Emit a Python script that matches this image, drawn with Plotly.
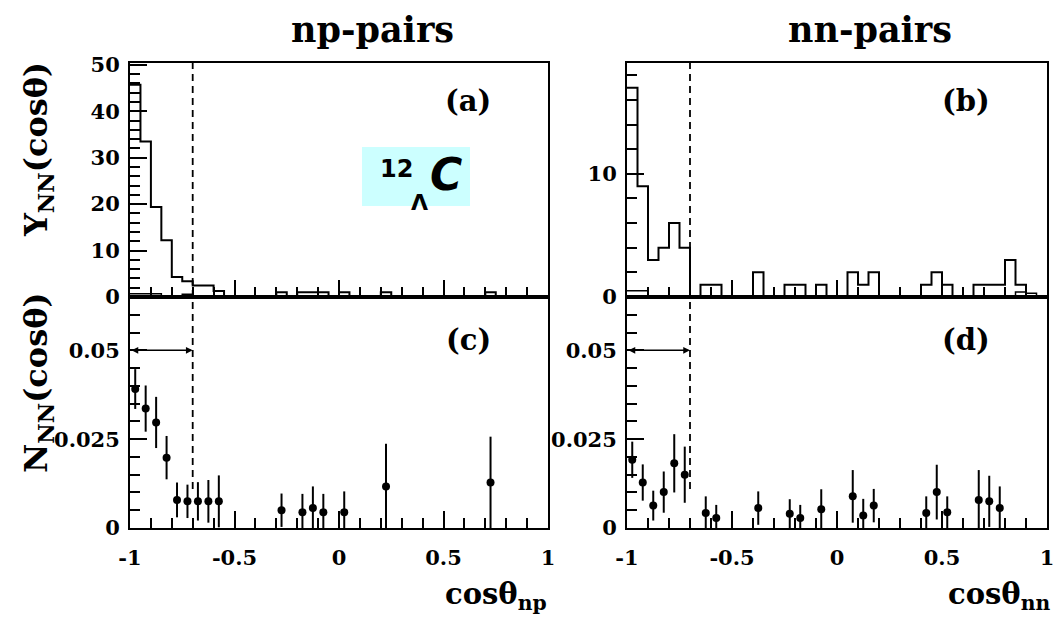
import plotly.graph_objects as go

# ---- histogram binning: 40 bins of width 0.05 on cos(theta) in [-1, 1] ----
X_MIN, X_MAX = -1.0, 1.0
N_BINS = 40
CUT = -0.7        # back-to-back cut position (dashed line)
ARROW_Y = 0.05    # height of the cut-range arrow in the lower panels

# Y_NN(cos theta), np-pairs: main histogram and the small secondary histogram
np_yield = [45.7, 33.5, 19.4, 12.2, 4.3, 3.4, 2.5, 2.5, 1.3, 0,
            0, 0, 0, 0, 1, 0, 1, 1, 1, 0,
            1, 0, 0, 0, 1, 0, 0, 0, 0, 0,
            0, 0, 0, 0, 1, 0, 0, 0, 0, 0]
np_yield_low = [0.7, 0.7, 0.7, 0.2, 0, 0.6, 0, 0, 0, 0,
                0, 0, 0, 0, 0, 0, 0, 0, 0, 0,
                0, 0, 0, 0, 0, 0, 0, 0, 0, 0,
                0, 0, 0, 0, 0, 0, 0, 0, 0, 0]

# Y_NN(cos theta), nn-pairs
nn_yield = [17, 9, 3, 4, 6, 4, 0, 1, 1, 0,
            0, 0, 2, 0, 0, 1, 1, 0, 1, 0,
            0, 2, 1, 2, 0, 0, 0, 0, 1, 2,
            1, 0, 0, 1, 1, 1, 3, 1, 0, 0]
nn_yield_low = [0.5, 0.5, 0, 0, 0, 0, 0, 0, 0, 0,
                0, 0, 0, 0, 0, 0, 0, 0, 0, 0,
                0, 0, 0, 0, 0, 0, 0, 0, 0, 0,
                0, 0, 0, 0, 0, 0, 0, 0.4, 0.3, 0]

# N_NN(cos theta), np-pairs
np_cos = [-0.975, -0.925, -0.875, -0.825, -0.775, -0.725, -0.675, -0.625,
          -0.575, -0.275, -0.175, -0.125, -0.075, 0.025, 0.225, 0.725]
np_n = [0.0391, 0.0336, 0.0297, 0.0198, 0.0079, 0.0075, 0.0075, 0.0075,
        0.0075, 0.0050, 0.0044, 0.0056, 0.0044, 0.0044, 0.0117, 0.0128]
np_err = [0.0056, 0.0065, 0.0072, 0.0061, 0.0049, 0.0047, 0.0054, 0.0060,
          0.0073, 0.0047, 0.0052, 0.0061, 0.0052, 0.0059, 0.0120, 0.0129]

# N_NN(cos theta), nn-pairs
nn_cos = [-0.975, -0.925, -0.875, -0.825, -0.775, -0.725, -0.625, -0.575,
          -0.375, -0.225, -0.175, -0.075, 0.075, 0.125, 0.175, 0.425,
          0.475, 0.525, 0.675, 0.725, 0.775]
nn_n = [0.0192, 0.0128, 0.0063, 0.0101, 0.0182, 0.0150, 0.0042, 0.0028,
        0.0056, 0.0040, 0.0028, 0.0053, 0.0089, 0.0035, 0.0063, 0.0042,
        0.0101, 0.0044, 0.0079, 0.0075, 0.0056]
nn_err = [0.0051, 0.0051, 0.0042, 0.0058, 0.0082, 0.0079, 0.0047, 0.0037,
          0.0047, 0.0041, 0.0037, 0.0056, 0.0074, 0.0047, 0.0047, 0.0047,
          0.0077, 0.0045, 0.0084, 0.0072, 0.0061]

# axis tick labels
x_tickvals = [-1, -0.5, 0, 0.5, 1]
x_ticktext = ["-1", "-0.5", "0", "0.5", "1"]
n_tickvals = [0, 0.025, 0.05]
n_ticktext = ["0", "0.025", "0.05"]

Y_MAX_NP = 50.4
Y_MAX_NN = 19.0
N_MAX = 0.065
DASH_LOW = 0.011  # lower end of the dashed cut line in the N panels

W, H = 1056, 620
SERIF = "DejaVu Serif"

edges = [X_MIN + i * (X_MAX - X_MIN) / N_BINS for i in range(N_BINS + 1)]


def px(x):
    return x / W


def py(y):
    return 1 - y / H


def step(values, xa, ya, width):
    return go.Scatter(x=edges, y=list(values) + [values[-1]], mode="lines",
                      line=dict(shape="hv", color="black", width=width),
                      xaxis=xa, yaxis=ya, hoverinfo="skip")


def points(xs, ys, es, xa, ya):
    return go.Scatter(x=xs, y=ys, mode="markers",
                      marker=dict(symbol="circle", size=8, color="black"),
                      error_y=dict(type="data", array=es, visible=True,
                                   thickness=2, width=0, color="black"),
                      xaxis=xa, yaxis=ya)


def cut_line(xa, ya, y0, y1):
    return go.Scatter(x=[CUT, CUT], y=[y0, y1], mode="lines",
                      line=dict(color="black", width=1.8, dash="7px,5px"),
                      xaxis=xa, yaxis=ya, hoverinfo="skip")


fig = go.Figure()
# (a) np yield
fig.add_trace(step(np_yield, "x", "y", 2))
fig.add_trace(step(np_yield_low, "x", "y", 1.5))
fig.add_trace(cut_line("x", "y", 0, Y_MAX_NP))
# (b) nn yield
fig.add_trace(step(nn_yield, "x2", "y2", 2))
fig.add_trace(step(nn_yield_low, "x2", "y2", 1.5))
fig.add_trace(cut_line("x2", "y2", 0, Y_MAX_NN))
# (c) np normalised distribution
fig.add_trace(cut_line("x3", "y3", DASH_LOW, N_MAX))
fig.add_trace(points(np_cos, np_n, np_err, "x3", "y3"))
# (d) nn normalised distribution
fig.add_trace(cut_line("x4", "y4", DASH_LOW, N_MAX))
fig.add_trace(points(nn_cos, nn_n, nn_err, "x4", "y4"))

left_dom = [px(130), px(548)]
right_dom = [px(627), px(1047)]
top_dom = [py(297), py(63)]
bot_dom = [py(528), py(297)]

tickfont = dict(family=SERIF, size=21, color="black", weight="bold")


def xaxis(dom, anchor, labels):
    return dict(domain=dom, anchor=anchor, range=[X_MIN, X_MAX],
                automargin=False,
                showgrid=False, zeroline=False, showline=True, mirror=True,
                linecolor="black", linewidth=2,
                ticks="inside", ticklen=17, tickwidth=1.5, tickcolor="black",
                tickvals=x_tickvals, ticktext=x_ticktext,
                showticklabels=labels, tickfont=tickfont,
                ticklabelstandoff=10,
                minor=dict(ticks="inside", dtick=0.1, tick0=0, ticklen=10,
                           tickwidth=1.5, tickcolor="black"))


def yaxis(dom, anchor, rng, tv, tt, minor_dt):
    return dict(domain=dom, anchor=anchor, range=rng,
                automargin=False,
                showgrid=False, zeroline=False, showline=True, mirror=True,
                linecolor="black", linewidth=2,
                ticks="inside", ticklen=17, tickwidth=1.5, tickcolor="black",
                tickvals=tv, ticktext=tt, tickfont=tickfont,
                ticklabelstandoff=4,
                minor=dict(ticks="inside", dtick=minor_dt, tick0=0, ticklen=10,
                           tickwidth=1.5, tickcolor="black"))


y_np_ticks = [0, 10, 20, 30, 40, 50]
y_nn_ticks = [0, 10]

fig.update_layout(
    width=W, height=H,
    margin=dict(l=0, r=0, t=0, b=0, pad=0, autoexpand=False),
    paper_bgcolor="white", plot_bgcolor="white", showlegend=False,
    xaxis=xaxis(left_dom, "y", False),
    xaxis2=xaxis(right_dom, "y2", False),
    xaxis3=xaxis(left_dom, "y3", True),
    xaxis4=xaxis(right_dom, "y4", True),
    yaxis=yaxis(top_dom, "x", [0, Y_MAX_NP], y_np_ticks,
                [str(v) for v in y_np_ticks], 2),
    yaxis2=yaxis(top_dom, "x2", [0, Y_MAX_NN], y_nn_ticks,
                 [str(v) for v in y_nn_ticks], 2),
    yaxis3=yaxis(bot_dom, "x3", [0, N_MAX], n_tickvals, n_ticktext, 0.005),
    yaxis4=yaxis(bot_dom, "x4", [0, N_MAX], n_tickvals, n_ticktext, 0.005),
)

# cut-range arrows in the lower panels
for xa, ya in (("x3", "y3"), ("x4", "y4")):
    fig.add_annotation(x=CUT, y=ARROW_Y, ax=X_MIN, ay=ARROW_Y,
                       xref=xa, yref=ya, axref=xa, ayref=ya, text="",
                       showarrow=True, arrowhead=2, arrowside="end+start",
                       arrowsize=0.9, arrowwidth=1.5, arrowcolor="black",
                       standoff=0, startstandoff=0)


def label(text, x, y, size, family=SERIF, xanchor="center", **kw):
    fig.add_annotation(text=text, x=px(x), y=py(y), xref="paper", yref="paper",
                       showarrow=False, xanchor=xanchor, yanchor="middle",
                       font=dict(family=family, size=size,
                                 color="black", weight="bold"), **kw)


# column titles
label("np-pairs", 372, 30, 35)
label("nn-pairs", 870, 30, 35)
# panel tags
label("(a)", 468, 101, 29)
label("(b)", 966, 101, 29)
label("(c)", 468, 340, 29)
label("(d)", 966, 340, 29)
# axis titles
label("cosθ<sub>np</sub>", 549, 596, 29, xanchor="right")
label("cosθ<sub>nn</sub>", 1052, 596, 29, xanchor="right")
label("Y<sub>NN</sub>(cosθ)", 38, 150, 32, textangle=-90)
label("N<sub>NN</sub>(cosθ)", 38, 383, 32, textangle=-90)

# hypernucleus tag
fig.add_shape(type="rect", xref="paper", yref="paper",
              x0=px(362), x1=px(470), y0=py(206), y1=py(147),
              fillcolor="#ccffff", line=dict(width=0), layer="below")
label("12", 396, 169, 24, family="DejaVu Sans")
label("Λ", 419, 203, 22, family="DejaVu Sans")
fig.add_annotation(text="<i>C</i>", x=px(446), y=py(175), xref="paper",
                   yref="paper", showarrow=False, yanchor="middle",
                   font=dict(family="DejaVu Sans", size=44, color="black",
                             weight="bold"))

fig.write_html("out.html")
